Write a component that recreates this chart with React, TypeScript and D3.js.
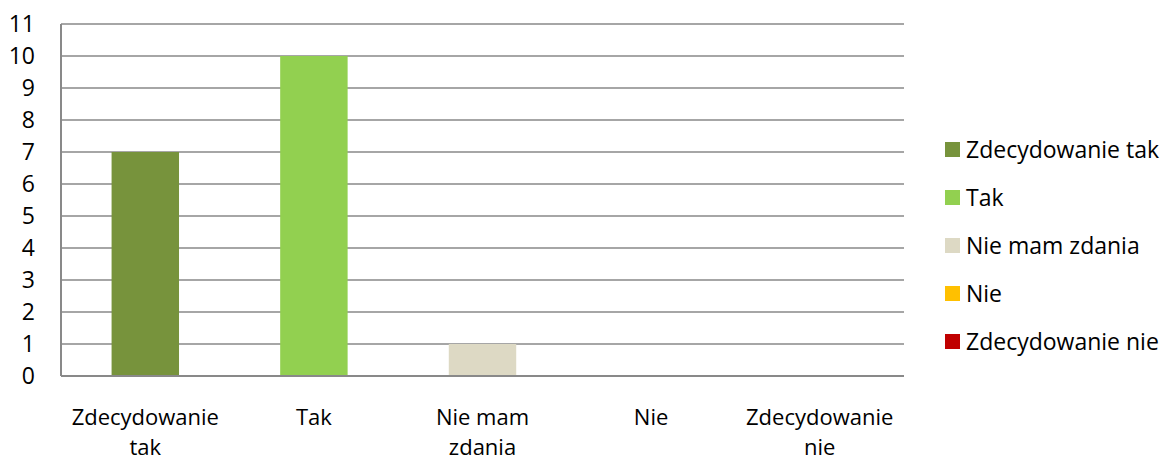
import * as d3 from 'd3';

const categories = ['Zdecydowanie tak', 'Tak', 'Nie mam zdania', 'Nie', 'Zdecydowanie nie'];
const categoryLines = [['Zdecydowanie', 'tak'], ['Tak'], ['Nie mam', 'zdania'], ['Nie'], ['Zdecydowanie', 'nie']];
const values = [7, 10, 1, 0, 0];
const colors = ['#77933C', '#92D050', '#DDD9C4', '#FFC000', '#C00000'];
const yTicks = [0, 1, 2, 3, 4, 5, 6, 7, 8, 9, 10, 11];

const W = 1165;
const H = 463;
const FONT = "'Open Sans', 'Noto Sans', sans-serif";
const FS = 23;

export default function App() {
  const margin = { top: 24, right: 261, bottom: 87, left: 61 };
  const width = W - margin.left - margin.right;
  const height = H - margin.top - margin.bottom;

  const x = d3.scaleBand<string>().domain(categories).range([0, width]).padding(0);
  const y = d3.scaleLinear().domain([0, 11]).range([height, 0]);
  const barW = x.bandwidth() * 0.4;

  return (
    <svg width={W} height={H} style={{ position: 'absolute', left: 0, top: 0, background: '#fff' }}>
      <g transform={`translate(${margin.left},${margin.top})`}>
        {/* gridlines */}
        {yTicks.map((t) => (
          <line key={t} x1={0} x2={width} y1={y(t)} y2={y(t)} stroke="#898989" strokeWidth={1.5} />
        ))}
        {/* bars */}
        {categories.map((c, i) => (
          <rect
            key={c}
            x={(x(c) ?? 0) + (x.bandwidth() - barW) / 2}
            y={y(values[i])}
            width={barW}
            height={y(0) - y(values[i])}
            fill={colors[i]}
          />
        ))}
        {/* axes */}
        <line x1={0} x2={0} y1={0} y2={height} stroke="#898989" strokeWidth={2} />
        <line x1={0} x2={width} y1={height} y2={height} stroke="#898989" strokeWidth={2} />
        {yTicks.map((t) => (
          <text key={t} x={-26} y={y(t)} dy="0.35em" textAnchor="end" fontFamily={FONT} fontSize={FS} fill="#000">
            {t}
          </text>
        ))}
        {categories.map((c, i) => (
          <text key={c} x={(x(c) ?? 0) + x.bandwidth() / 2} textAnchor="middle" fontFamily={FONT} fontSize={22} fill="#000">
            {categoryLines[i].map((ln, j) => (
              <tspan key={j} x={(x(c) ?? 0) + x.bandwidth() / 2} y={height + 49 + j * 30}>
                {ln}
              </tspan>
            ))}
          </text>
        ))}
      </g>
      {/* legend */}
      <g transform="translate(945,142)">
        {categories.map((c, i) => (
          <g key={c} transform={`translate(0,${i * 48})`}>
            <rect width={15} height={15} fill={colors[i]} />
            <text x={21} y={7.5} dy="0.35em" fontFamily={FONT} fontSize={FS} fill="#000">
              {c}
            </text>
          </g>
        ))}
      </g>
    </svg>
  );
}
